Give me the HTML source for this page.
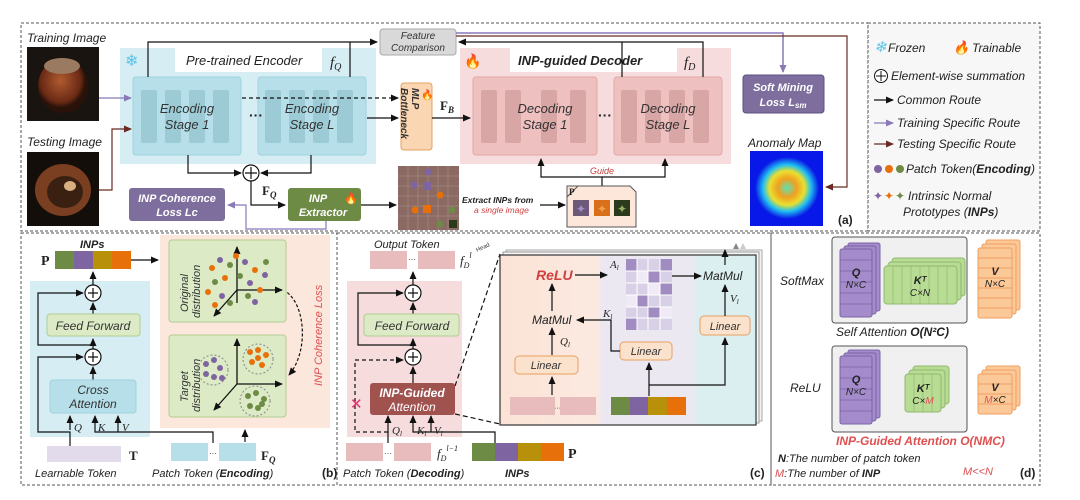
<!DOCTYPE html>
<html><head><meta charset="utf-8"><style>
body{margin:0;background:#fff}
svg{display:block;font-family:"Liberation Sans",sans-serif}
.i{font-style:italic}
</style></head><body>
<svg width="1080" height="500" viewBox="0 0 1080 500" xmlns="http://www.w3.org/2000/svg">
<defs>
<marker id="ak" markerWidth="8" markerHeight="8" refX="7" refY="4" orient="auto" markerUnits="userSpaceOnUse"><path d="M0,0.5 L8,4 L0,7.5z" fill="#111"/></marker>
<marker id="ap" markerWidth="8" markerHeight="8" refX="7" refY="4" orient="auto" markerUnits="userSpaceOnUse"><path d="M0,0.5 L8,4 L0,7.5z" fill="#8a78b8"/></marker>
<marker id="ab" markerWidth="8" markerHeight="8" refX="7" refY="4" orient="auto" markerUnits="userSpaceOnUse"><path d="M0,0.5 L8,4 L0,7.5z" fill="#6a2a22"/></marker>
<linearGradient id="zg" x1="0" x2="1"><stop offset="0" stop-color="#fbe3d6"/><stop offset="0.38" stop-color="#fbe9e0"/><stop offset="0.4" stop-color="#ece8f2"/><stop offset="0.75" stop-color="#ece8f2"/><stop offset="0.77" stop-color="#dceff0"/><stop offset="1" stop-color="#dceff0"/></linearGradient>
<radialGradient id="am" cx="0.5" cy="0.5" r="0.5"><stop offset="0" stop-color="#60e0b0"/><stop offset="0.3" stop-color="#f0a020"/><stop offset="0.55" stop-color="#e8e030"/><stop offset="0.75" stop-color="#20c0f0"/><stop offset="1" stop-color="#0818e8"/></radialGradient>
<radialGradient id="nut1" cx="0.45" cy="0.4" r="0.5"><stop offset="0" stop-color="#b05a30"/><stop offset="0.8" stop-color="#6a2a14"/><stop offset="1" stop-color="#2a1208"/></radialGradient>
</defs>

<g fill="none" stroke="#555" stroke-dasharray="3,2" stroke-width="1">
<rect x="21" y="23" width="847" height="208"/>
<rect x="868" y="23" width="172" height="208" fill="#f7f7f7"/>
<rect x="21" y="233" width="316" height="252"/>
<rect x="337" y="233" width="434" height="252"/>
<rect x="771" y="233" width="269" height="252"/>
</g>

<text x="27" y="42" font-size="12" class="i" fill="#222">Training Image</text>
<rect x="27" y="47" width="72" height="74" fill="#1a1410"/>
<ellipse cx="63" cy="86" rx="25" ry="27" fill="url(#nut1)"/>
<ellipse cx="62" cy="66" rx="18" ry="8" fill="#9a7a60"/>
<text x="27" y="146" font-size="12" class="i" fill="#222">Testing Image</text>
<rect x="27" y="152" width="72" height="74" fill="#140e0a"/>
<ellipse cx="63" cy="190" rx="28" ry="26" fill="#7a3e20"/>
<ellipse cx="65" cy="192" rx="18" ry="16" fill="#3a2010"/>
<ellipse cx="70" cy="186" rx="6" ry="5" fill="#d8b080"/>

<rect x="120" y="48" width="256" height="116" fill="#d6edf3"/>
<text x="125" y="66" font-size="16" fill="#5cc4e8">❄</text>
<rect x="175" y="48" width="147" height="24" fill="#fff"/>
<text x="186" y="65" font-size="13" class="i" fill="#222">Pre-trained Encoder</text>
<text x="330" y="67" font-size="15" class="i" font-family="Liberation Serif" fill="#222">f<tspan font-size="10" dy="3">Q</tspan></text>
<g fill="#b6dfe9" stroke="#9ed2de">
<rect x="133" y="77" width="108" height="78" rx="3"/>
<rect x="258" y="77" width="108" height="78" rx="3"/>
</g>
<g fill="#9ccbd6">
<rect x="141" y="90" width="16" height="53" rx="2"/><rect x="165" y="90" width="16" height="53" rx="2"/><rect x="189" y="90" width="16" height="53" rx="2"/><rect x="213" y="90" width="16" height="53" rx="2"/>
<rect x="265" y="90" width="16" height="53" rx="2"/><rect x="289" y="90" width="16" height="53" rx="2"/><rect x="313" y="90" width="16" height="53" rx="2"/><rect x="337" y="90" width="16" height="53" rx="2"/>
</g>
<text x="187" y="113" font-size="13" class="i" text-anchor="middle" fill="#333">Encoding</text>
<text x="187" y="129" font-size="13" class="i" text-anchor="middle" fill="#333">Stage 1</text>
<text x="312" y="113" font-size="13" class="i" text-anchor="middle" fill="#333">Encoding</text>
<text x="312" y="129" font-size="13" class="i" text-anchor="middle" fill="#333">Stage L</text>
<text x="249" y="120" font-size="14" font-weight="bold" fill="#222">···</text>

<rect x="380" y="29" width="76" height="26" rx="3" fill="#d9d9d9" stroke="#aaa"/>
<text x="418" y="39" font-size="10" class="i" text-anchor="middle" fill="#333">Feature</text>
<text x="418" y="51" font-size="10" class="i" text-anchor="middle" fill="#333">Comparison</text>

<rect x="401" y="83" width="31" height="67" rx="3" fill="#fbd6b2" stroke="#e0a060"/>
<text transform="translate(412,88) rotate(90)" font-size="10" class="i" font-weight="bold" fill="#333">MLP</text>
<text transform="translate(401,88) rotate(90)" font-size="10" class="i" font-weight="bold" fill="#333">Bottleneck</text>
<text x="421" y="98" font-size="10" fill="#e8801a">🔥</text>
<text x="440" y="110" font-size="13" font-weight="bold" font-family="Liberation Serif" fill="#222">F<tspan font-size="9" dy="3" class="i">B</tspan></text>

<rect x="460" y="48" width="271" height="116" fill="#f6dcdc"/>
<text x="464" y="66" font-size="14" fill="#f08020">🔥</text>
<rect x="510" y="48" width="167" height="24" fill="#fff"/>
<text x="518" y="65" font-size="13" class="i" font-weight="bold" fill="#222">INP-guided Decoder</text>
<text x="684" y="67" font-size="15" class="i" font-family="Liberation Serif" fill="#222">f<tspan font-size="10" dy="3">D</tspan></text>
<g fill="#efc0c0" stroke="#e0a8a8">
<rect x="473" y="77" width="124" height="78" rx="3"/>
<rect x="614" y="77" width="108" height="78" rx="3"/>
</g>
<g fill="#d9a6a6">
<rect x="481" y="90" width="16" height="53" rx="2"/><rect x="505" y="90" width="16" height="53" rx="2"/><rect x="541" y="90" width="16" height="53" rx="2"/><rect x="570" y="90" width="16" height="53" rx="2"/>
<rect x="621" y="90" width="16" height="53" rx="2"/><rect x="645" y="90" width="16" height="53" rx="2"/><rect x="669" y="90" width="16" height="53" rx="2"/><rect x="693" y="90" width="16" height="53" rx="2"/>
</g>
<text x="545" y="113" font-size="13" class="i" text-anchor="middle" fill="#333">Decoding</text>
<text x="545" y="129" font-size="13" class="i" text-anchor="middle" fill="#333">Stage 1</text>
<text x="668" y="113" font-size="13" class="i" text-anchor="middle" fill="#333">Decoding</text>
<text x="668" y="129" font-size="13" class="i" text-anchor="middle" fill="#333">Stage L</text>
<text x="598" y="120" font-size="14" font-weight="bold" fill="#222">···</text>

<rect x="743" y="75" width="81" height="38" rx="3" fill="#7e6e9e" stroke="#5e5080"/>
<text x="783" y="91" font-size="11" class="i" font-weight="bold" text-anchor="middle" fill="#fff">Soft Mining</text>
<text x="783" y="106" font-size="11" class="i" font-weight="bold" text-anchor="middle" fill="#fff">Loss L<tspan font-size="8" dy="2">sm</tspan></text>
<text x="748" y="147" font-size="12" class="i" fill="#222">Anomaly Map</text>
<rect x="750" y="151" width="73" height="75" fill="#0818e8"/>
<ellipse cx="787" cy="188" rx="32" ry="31" fill="url(#am)"/>
<text x="838" y="224" font-size="12" font-weight="bold" fill="#222">(a)</text>

<g fill="none" stroke="#111" stroke-width="1.2">
<path d="M148,77 V42 H377" marker-end="url(#ak)"/>
<path d="M350,77 V42"/>
<path d="M703,77 V42 H459" marker-end="url(#ak)"/>
<path d="M622,77 V42"/>
<path d="M367,118 H398" marker-end="url(#ak)"/>
<path d="M242,98 H398" stroke-dasharray="4,3" marker-end="url(#ak)"/>
<path d="M432,118 H470" marker-end="url(#ak)"/>
<path d="M188,155 V173 H241" marker-end="url(#ak)"/>
<path d="M311,155 V173 H261" marker-end="url(#ak)"/>
<path d="M251,181 V205 H285" marker-end="url(#ak)"/>
<path d="M361,205 H396" marker-end="url(#ak)"/>
<path d="M540,205 H565" marker-end="url(#ak)"/>
<path d="M602,186 V177 H541 V159" marker-end="url(#ak)"/>
<path d="M602,177 H665 V159" marker-end="url(#ak)"/>
</g>
<circle cx="251" cy="173" r="8" fill="#fff" stroke="#111" stroke-width="1.2"/>
<path d="M245,173 h12 M251,167 v12" stroke="#111" stroke-width="1.2"/>
<text x="262" y="195" font-size="13" font-weight="bold" font-family="Liberation Serif" fill="#222">F<tspan font-size="9" dy="3" class="i">Q</tspan></text>
<path d="M456,33 H783 V72" fill="none" stroke="#8a78b8" stroke-width="1.5" marker-end="url(#ap)"/>
<path d="M456,36 H847 V187 H826" fill="none" stroke="#6a2a22" stroke-width="1.2" marker-end="url(#ab)"/>
<path d="M99,98 H131" stroke="#8a78b8" stroke-width="1.2" marker-end="url(#ap)"/>
<path d="M99,190 H112 V129 H131" fill="none" stroke="#6a2a22" stroke-width="1.2" marker-end="url(#ab)"/>
<path d="M326,221 V229 H246 V205 H228" fill="none" stroke="#8a78b8" stroke-width="1.2" marker-end="url(#ap)"/>

<rect x="129" y="188" width="96" height="33" rx="3" fill="#7e6e9e"/>
<text x="177" y="202" font-size="11" class="i" font-weight="bold" text-anchor="middle" fill="#fff">INP Coherence</text>
<text x="177" y="216" font-size="11" class="i" font-weight="bold" text-anchor="middle" fill="#fff">Loss Lc</text>
<rect x="288" y="188" width="73" height="33" rx="3" fill="#6e8b45"/>
<text x="318" y="202" font-size="11" class="i" font-weight="bold" text-anchor="middle" fill="#fff">INP</text>
<text x="323" y="216" font-size="11" class="i" font-weight="bold" text-anchor="middle" fill="#fff">Extractor</text>
<text x="344" y="202" font-size="11" fill="#f08020">🔥</text>

<rect x="398" y="166" width="61" height="64" fill="#8a6a62"/>
<g stroke="#a08680" stroke-width="0.8">
<path d="M408,166v64M418,166v64M428,166v64M438,166v64M448,166v64M398,176h61M398,186h61M398,196h61M398,206h61M398,216h61"/>
</g>
<circle cx="428" cy="172" r="3.5" fill="#7e64a0"/><circle cx="414" cy="185" r="3.5" fill="#7e64a0"/>
<circle cx="440" cy="195" r="3.5" fill="#e8700a"/><circle cx="415" cy="210" r="3.5" fill="#e8700a"/>
<circle cx="452" cy="210" r="3.5" fill="#6e8b45"/><circle cx="440" cy="224" r="3.5" fill="#6e8b45"/>
<rect x="423" y="182" width="8" height="8" fill="#7e64a0"/><rect x="423" y="205" width="8" height="8" fill="#e8700a"/><rect x="449" y="220" width="8" height="8" fill="#2a3a1a"/>
<text x="462" y="203" font-size="8.5" class="i" font-weight="bold" fill="#222">Extract INPs from</text>
<text x="474" y="213" font-size="8.5" class="i" fill="#d04040">a single image</text>
<text x="590" y="174" font-size="9" class="i" fill="#c04040">Guide</text>
<path d="M567,186 H630 L636,192 V227 H567 Z" fill="#fde6da" stroke="#555"/>
<path d="M567,197 L578,186" stroke="#555"/>
<text x="569" y="195" font-size="9" font-weight="bold" font-family="Liberation Serif" fill="#222">P</text>
<rect x="573" y="200" width="16" height="16" fill="#6e5878"/><rect x="594" y="200" width="16" height="16" fill="#d8701a"/><rect x="614" y="200" width="16" height="16" fill="#2c3a1c"/>
<g font-size="12" text-anchor="middle"><text x="581" y="213" fill="#a090d0">✦</text><text x="602" y="213" fill="#f0a050">✦</text><text x="622" y="213" fill="#90b060">✦</text></g>

<g font-size="12" class="i" fill="#222">
<text x="874" y="52" fill="#5cc4e8" font-size="15">❄</text><text x="888" y="52">Frozen</text>
<text x="953" y="52" fill="#f08020" font-size="13">🔥</text><text x="972" y="52">Trainable</text>
<circle cx="881" cy="76" r="6.5" fill="#fff" stroke="#111"/><path d="M876,76h10M881,71v10" stroke="#111"/>
<text x="891" y="80">Element-wise summation</text>
<path d="M874,100 H893" stroke="#111" stroke-width="1.2" marker-end="url(#ak)"/><text x="897" y="104">Common Route</text>
<path d="M874,123 H893" stroke="#8a78b8" stroke-width="1.2" marker-end="url(#ap)"/><text x="897" y="127">Training Specific Route</text>
<path d="M874,144 H893" stroke="#6a2a22" stroke-width="1.2" marker-end="url(#ab)"/><text x="897" y="148">Testing Specific Route</text>
<circle cx="878" cy="169" r="4" fill="#7e64a0"/><circle cx="889" cy="169" r="4" fill="#e8700a"/><circle cx="900" cy="169" r="4" fill="#6e8b45"/>
<text x="906" y="173">Patch Token(<tspan font-weight="bold">Encoding</tspan>)</text>
<text x="873" y="200" fill="#7e64a0" font-style="normal">✦</text><text x="884" y="200" fill="#e8700a" font-style="normal">✦</text><text x="895" y="200" fill="#6e8b45" font-style="normal">✦</text>
<text x="908" y="200">Intrinsic Normal</text>
<text x="903" y="216">Prototypes (<tspan font-weight="bold">INPs</tspan>)</text>
</g>

<rect x="30" y="281" width="120" height="156" fill="#d6edf3"/>
<rect x="160" y="235" width="170" height="193" fill="#fbe7dc"/>
<text x="80" y="248" font-size="11" class="i" font-weight="bold" fill="#222">INPs</text>
<text x="41" y="265" font-size="14" font-weight="bold" font-family="Liberation Serif" fill="#222">P</text>
<rect x="55" y="251" width="19" height="18" fill="#6e8b45"/><rect x="74" y="251" width="19" height="18" fill="#7e64a0"/><rect x="93" y="251" width="19" height="18" fill="#b8900a"/><rect x="112" y="251" width="19" height="18" fill="#e8700a"/>
<g fill="none" stroke="#111" stroke-width="1.2">
<path d="M131,260 H158" marker-end="url(#ak)"/>
<path d="M93,285 V272" marker-end="url(#ak)"/>
<path d="M93,314 V303" marker-end="url(#ak)"/>
<path d="M93,349 V339" marker-end="url(#ak)"/>
<path d="M93,380 V367" marker-end="url(#ak)"/>
<path d="M93,345 H38 V293 H83" marker-end="url(#ak)"/>
<path d="M70,449 V432 H38 V357 H83" marker-end="url(#ak)"/>
<path d="M70,430 V416" marker-end="url(#ak)"/>
<path d="M213,443 V432 H95 V416" marker-end="url(#ak)"/>
<path d="M118,432 V416" marker-end="url(#ak)"/>
<path d="M245,442 V430" marker-end="url(#ak)"/>
<path d="M283,290 C305,300 310,350 289,375" stroke-dasharray="3,2" marker-end="url(#ak)"/>
</g>
<g fill="#fff" stroke="#111" stroke-width="1.2"><circle cx="93" cy="293" r="8"/><circle cx="93" cy="357" r="8"/></g>
<path d="M88,293h10M93,288v10M88,357h10M93,352v10" stroke="#111" stroke-width="1.2"/>
<rect x="47" y="314" width="93" height="22" rx="3" fill="#dcebc6" stroke="#b0cc90"/>
<text x="93" y="330" font-size="12" class="i" text-anchor="middle" fill="#333">Feed Forward</text>
<rect x="50" y="380" width="86" height="33" rx="3" fill="#b6dfe9" stroke="#9ed2de"/>
<text x="93" y="394" font-size="12" class="i" text-anchor="middle" fill="#333">Cross</text>
<text x="93" y="408" font-size="12" class="i" text-anchor="middle" fill="#333">Attention</text>
<g font-size="11" class="i" font-family="Liberation Serif" fill="#222"><text x="74" y="431">Q</text><text x="98" y="431">K</text><text x="122" y="431">V</text></g>
<rect x="47" y="446" width="74" height="16" fill="#e2dbec"/>
<text x="129" y="460" font-size="13" font-weight="bold" font-family="Liberation Serif" fill="#222">T</text>
<text x="35" y="477" font-size="11" class="i" fill="#222">Learnable Token</text>
<rect x="171" y="443" width="37" height="18" fill="#b6dfe9"/><rect x="219" y="443" width="37" height="18" fill="#b6dfe9"/>
<text x="209" y="456" font-size="8" fill="#222">···</text>
<text x="261" y="460" font-size="13" font-weight="bold" font-family="Liberation Serif" fill="#222">F<tspan font-size="9" dy="3" class="i">Q</tspan></text>
<text x="152" y="477" font-size="11" class="i" fill="#222">Patch Token (<tspan font-weight="bold">Encoding</tspan>)</text>
<text x="322" y="477" font-size="12" font-weight="bold" fill="#222">(b)</text>

<rect x="169" y="240" width="117" height="82" rx="3" fill="#dcebc6" stroke="#b0cc90"/>
<rect x="169" y="335" width="117" height="82" rx="3" fill="#dcebc6" stroke="#b0cc90"/>
<text transform="translate(188,312) rotate(-90)" font-size="11" class="i" fill="#333">Original</text>
<text transform="translate(200,318) rotate(-90)" font-size="11" class="i" fill="#333">distribution</text>
<text transform="translate(188,402) rotate(-90)" font-size="11" class="i" fill="#333">Target</text>
<text transform="translate(200,412) rotate(-90)" font-size="11" class="i" fill="#333">distribution</text>
<g stroke="#111" stroke-width="1.3" fill="none">
<path d="M237,303 V247" marker-end="url(#ak)"/><path d="M237,290 H282" marker-end="url(#ak)"/><path d="M237,290 L214,316" marker-end="url(#ak)"/>
<path d="M237,384 V339" marker-end="url(#ak)"/><path d="M237,384 H282" marker-end="url(#ak)"/><path d="M237,384 L214,410" marker-end="url(#ak)"/>
</g>
<g>
<circle cx="212" cy="268" r="3" fill="#e8700a"/><circle cx="220" cy="260" r="3" fill="#7e64a0"/><circle cx="230" cy="265" r="3" fill="#6e8b45"/><circle cx="245" cy="262" r="3" fill="#7e64a0"/><circle cx="255" cy="270" r="3" fill="#e8700a"/><circle cx="265" cy="275" r="3" fill="#7e64a0"/><circle cx="215" cy="282" r="3" fill="#6e8b45"/><circle cx="225" cy="278" r="3" fill="#e8700a"/><circle cx="240" cy="276" r="3" fill="#6e8b45"/><circle cx="250" cy="283" r="3" fill="#7e64a0"/><circle cx="208" cy="292" r="3" fill="#e8700a"/><circle cx="222" cy="296" r="3" fill="#7e64a0"/><circle cx="248" cy="296" r="3" fill="#6e8b45"/><circle cx="260" cy="290" r="3" fill="#e8700a"/><circle cx="230" cy="303" r="3" fill="#6e8b45"/><circle cx="215" cy="305" r="3" fill="#e8700a"/><circle cx="255" cy="302" r="3" fill="#7e64a0"/><circle cx="266" cy="262" r="3" fill="#6e8b45"/><circle cx="236" cy="256" r="3" fill="#e8700a"/>
</g>
<circle cx="213" cy="370" r="15" fill="none" stroke="#888" stroke-dasharray="2,2"/>
<circle cx="258" cy="359" r="15" fill="none" stroke="#888" stroke-dasharray="2,2"/>
<circle cx="255" cy="401" r="15" fill="none" stroke="#888" stroke-dasharray="2,2"/>
<g fill="#7e64a0"><circle cx="206" cy="364" r="3"/><circle cx="214" cy="360" r="3"/><circle cx="220" cy="368" r="3"/><circle cx="206" cy="374" r="3"/><circle cx="214" cy="377" r="3"/><circle cx="222" cy="378" r="3"/></g>
<g fill="#e8700a"><circle cx="250" cy="352" r="3"/><circle cx="258" cy="350" r="3"/><circle cx="266" cy="355" r="3"/><circle cx="252" cy="362" r="3"/><circle cx="262" cy="365" r="3"/><circle cx="258" cy="358" r="3"/></g>
<g fill="#6e8b45"><circle cx="248" cy="396" r="3"/><circle cx="256" cy="393" r="3"/><circle cx="264" cy="399" r="3"/><circle cx="250" cy="406" r="3"/><circle cx="258" cy="408" r="3"/><circle cx="262" cy="404" r="3"/></g>
<text transform="translate(322,386) rotate(-90)" font-size="11" class="i" fill="#e05050">INP Coherence Loss</text>

<rect x="347" y="281" width="115" height="156" fill="#f6dcdc"/>
<text x="374" y="248" font-size="11" class="i" fill="#222">Output Token</text>
<rect x="370" y="251" width="37" height="18" fill="#e8bcbc"/><rect x="418" y="251" width="37" height="18" fill="#e8bcbc"/>
<text x="408" y="262" font-size="8" fill="#222">···</text>
<text x="460" y="265" font-size="13" class="i" font-family="Liberation Serif" fill="#222">f<tspan font-size="8" dy="3">D</tspan><tspan font-size="8" dy="-10">l</tspan></text>
<g fill="none" stroke="#111" stroke-width="1.2">
<path d="M413,285 V272" marker-end="url(#ak)"/>
<path d="M413,314 V303" marker-end="url(#ak)"/>
<path d="M413,349 V339" marker-end="url(#ak)"/>
<path d="M413,383 V367" marker-end="url(#ak)"/>
<path d="M413,345 H358 V293 H403" marker-end="url(#ak)"/>
<path d="M388,443 V416" marker-end="url(#ak)"/>
<path d="M495,443 V432 H413 V416" marker-end="url(#ak)"/>
<path d="M431,432 V416" marker-end="url(#ak)"/>
<path d="M388,432 H355 V360 H403" stroke-dasharray="4,3" marker-end="url(#ak)"/>
<path d="M455,386 L500,254" stroke-dasharray="5,3"/>
<path d="M455,414 L500,424" stroke-dasharray="5,3"/>
</g>
<g fill="#fff" stroke="#111" stroke-width="1.2"><circle cx="413" cy="293" r="8"/><circle cx="413" cy="357" r="8"/></g>
<path d="M408,293h10M413,288v10M408,357h10M413,352v10" stroke="#111" stroke-width="1.2"/>
<rect x="364" y="314" width="95" height="22" rx="3" fill="#dcebc6" stroke="#b0cc90"/>
<text x="412" y="330" font-size="12" class="i" text-anchor="middle" fill="#333">Feed Forward</text>
<rect x="370" y="383" width="85" height="32" rx="3" fill="#a0524f"/>
<text x="412" y="397" font-size="12" class="i" font-weight="bold" text-anchor="middle" fill="#fff">INP-Guided</text>
<text x="412" y="411" font-size="12" class="i" text-anchor="middle" fill="#fff">Attention</text>
<text x="350" y="409" font-size="15" fill="#e83070">✕</text>
<g font-size="11" class="i" font-family="Liberation Serif" fill="#222"><text x="392" y="434">Q<tspan font-size="7" dy="2">l</tspan></text><text x="417" y="434">K<tspan font-size="7" dy="2">l</tspan></text><text x="434" y="434">V<tspan font-size="7" dy="2">l</tspan></text></g>
<rect x="346" y="443" width="37" height="18" fill="#e8bcbc"/><rect x="394" y="443" width="37" height="18" fill="#e8bcbc"/>
<text x="384" y="456" font-size="8" fill="#222">···</text>
<text x="437" y="458" font-size="13" class="i" font-family="Liberation Serif" fill="#222">f<tspan font-size="8" dy="3">D</tspan><tspan font-size="8" dy="-10">l−1</tspan></text>
<rect x="472" y="443" width="23" height="18" fill="#6e8b45"/><rect x="495" y="443" width="23" height="18" fill="#7e64a0"/><rect x="518" y="443" width="23" height="18" fill="#b8900a"/><rect x="541" y="443" width="23" height="18" fill="#e8700a"/>
<text x="568" y="458" font-size="14" font-weight="bold" font-family="Liberation Serif" fill="#222">P</text>
<text x="343" y="477" font-size="11" class="i" fill="#222">Patch Token (<tspan font-weight="bold">Decoding</tspan>)</text>
<text x="505" y="477" font-size="11" class="i" font-weight="bold" fill="#222">INPs</text>
<text x="750" y="477" font-size="12" font-weight="bold" fill="#222">(c)</text>
<text transform="translate(477,252) rotate(-25)" font-size="6" fill="#333">Head</text>

<rect x="506" y="250" width="256" height="171" fill="#f2f2f2" stroke="#aaa"/>
<rect x="503" y="252" width="256" height="171" fill="#f6f6f6" stroke="#999"/>
<rect x="500" y="255" width="256" height="170" fill="url(#zg)" stroke="#333" stroke-width="1.2"/>
<text x="536" y="280" font-size="14" class="i" font-weight="bold" fill="#d04040">ReLU</text>
<text x="610" y="268" font-size="11" class="i" font-family="Liberation Serif" fill="#222">A<tspan font-size="7" dy="2">l</tspan></text>
<g>
<rect x="626" y="259" width="46" height="71" fill="#d8d0e6"/>
<g fill="#a08cc0"><rect x="626" y="259" width="11" height="12"/><rect x="648" y="271" width="12" height="12"/><rect x="660" y="283" width="12" height="12"/><rect x="637" y="295" width="11" height="12"/><rect x="648" y="307" width="12" height="11"/><rect x="626" y="318" width="11" height="12"/><rect x="660" y="259" width="12" height="12"/></g>
<g fill="#efeaf5"><rect x="637" y="271" width="11" height="12"/><rect x="648" y="283" width="12" height="12"/><rect x="626" y="295" width="11" height="12"/><rect x="660" y="307" width="12" height="11"/></g>
<path d="M637,259v71M648,259v71M660,259v71M626,271h46M626,283h46M626,295h46M626,307h46M626,318h46" stroke="#fff" stroke-width="1"/>
</g>
<text x="703" y="280" font-size="12" class="i" fill="#222">MatMul</text>
<text x="730" y="302" font-size="11" class="i" font-family="Liberation Serif" fill="#222">V<tspan font-size="7" dy="2">l</tspan></text>
<text x="532" y="324" font-size="12" class="i" fill="#222">MatMul</text>
<text x="603" y="317" font-size="11" class="i" font-family="Liberation Serif" fill="#222">K<tspan font-size="7" dy="2">l</tspan></text>
<text x="560" y="345" font-size="11" class="i" font-family="Liberation Serif" fill="#222">Q<tspan font-size="7" dy="2">l</tspan></text>
<g fill="#fbe2cc" stroke="#e8a060"><rect x="700" y="316" width="50" height="19" rx="4"/><rect x="620" y="342" width="52" height="18" rx="4"/><rect x="515" y="356" width="63" height="18" rx="4"/></g>
<g font-size="11" class="i" text-anchor="middle" fill="#333"><text x="725" y="330">Linear</text><text x="646" y="355">Linear</text><text x="546" y="369">Linear</text></g>
<g fill="none" stroke="#111" stroke-width="1.2">
<path d="M575,275 H607" marker-end="url(#ak)"/>
<path d="M672,276 H701" marker-end="url(#ak)"/>
<path d="M725,316 V285" marker-end="url(#ak)"/>
<path d="M725,265 V250" marker-end="url(#ak)"/>
<path d="M552,311 V284" marker-end="url(#ak)"/>
<path d="M552,355 V328" marker-end="url(#ak)"/>
<path d="M620,351 H611 V320 H577" marker-end="url(#ak)"/>
<path d="M552,395 V377" marker-end="url(#ak)"/>
<path d="M649,396 V363" marker-end="url(#ak)"/>
<path d="M649,385 H725 V338" marker-end="url(#ak)"/>
</g>
<path d="M733,249 l3,-6 l3,6z" fill="#888"/><path d="M740,249 l3,-6 l3,6z" fill="#ccc"/>
<rect x="510" y="397" width="45" height="18" fill="#e8bcbc"/><rect x="560" y="397" width="36" height="18" fill="#e8bcbc"/>
<text x="554" y="410" font-size="7" fill="#222">···</text>
<rect x="611" y="397" width="19" height="18" fill="#6e8b45"/><rect x="630" y="397" width="18" height="18" fill="#7e64a0"/><rect x="648" y="397" width="19" height="18" fill="#b8900a"/><rect x="667" y="397" width="19" height="18" fill="#e8700a"/>

<text x="780" y="285" font-size="12" class="i" fill="#222">SoftMax</text>
<rect x="832" y="237" width="135" height="86" rx="3" fill="#f0f0f0" stroke="#555"/>
<g fill="#a48ccc" stroke="#7c64a4"><rect x="848" y="243" width="32" height="68" rx="2"/><rect x="844" y="246" width="32" height="68" rx="2"/><rect x="840" y="249" width="32" height="68" rx="2"/></g>
<g stroke="#7c64a4" stroke-width="0.7"><path d="M840,260h32M840,271h32M840,282h32M840,293h32M840,304h32"/></g>
<text x="856" y="276" font-size="11" class="i" font-weight="bold" text-anchor="middle" fill="#222">Q</text>
<text x="856" y="288" font-size="10" class="i" text-anchor="middle" fill="#222">N×C</text>
<g fill="#b8dc94" stroke="#90b870"><rect x="892" y="258" width="73" height="38" rx="3"/><rect x="888" y="262" width="73" height="38" rx="3"/><rect x="884" y="266" width="73" height="38" rx="3"/></g>
<g stroke="#90b870" stroke-width="0.7"><path d="M893,266v38M902,266v38M911,266v38M920,266v38M929,266v38M938,266v38M947,266v38"/></g>
<text x="920" y="284" font-size="11" class="i" font-weight="bold" text-anchor="middle" fill="#222">Kᵀ</text>
<text x="920" y="296" font-size="10" class="i" text-anchor="middle" fill="#222">C×N</text>
<g fill="#fbc898" stroke="#f0a060"><rect x="986" y="240" width="34" height="70" rx="2"/><rect x="982" y="244" width="34" height="70" rx="2"/><rect x="978" y="248" width="34" height="70" rx="2"/></g>
<g stroke="#f09050" stroke-width="0.7"><path d="M978,258h34M978,268h34M978,278h34M978,288h34M978,298h34M978,308h34"/></g>
<text x="995" y="275" font-size="11" class="i" font-weight="bold" text-anchor="middle" fill="#222">V</text>
<text x="995" y="287" font-size="10" class="i" text-anchor="middle" fill="#222">N×C</text>
<text x="836" y="336" font-size="12" class="i" fill="#222">Self Attention <tspan font-weight="bold">O(N²C)</tspan></text>

<text x="790" y="392" font-size="12" class="i" fill="#222">ReLU</text>
<rect x="832" y="346" width="135" height="86" rx="3" fill="#f0f0f0" stroke="#555"/>
<g fill="#a48ccc" stroke="#7c64a4"><rect x="848" y="350" width="32" height="68" rx="2"/><rect x="844" y="353" width="32" height="68" rx="2"/><rect x="840" y="356" width="32" height="68" rx="2"/></g>
<g stroke="#7c64a4" stroke-width="0.7"><path d="M840,367h32M840,378h32M840,389h32M840,400h32M840,411h32"/></g>
<text x="856" y="383" font-size="11" class="i" font-weight="bold" text-anchor="middle" fill="#222">Q</text>
<text x="856" y="395" font-size="10" class="i" text-anchor="middle" fill="#222">N×C</text>
<g fill="#b8dc94" stroke="#90b870"><rect x="913" y="366" width="36" height="38" rx="3"/><rect x="909" y="370" width="36" height="38" rx="3"/><rect x="905" y="374" width="36" height="38" rx="3"/></g>
<g stroke="#90b870" stroke-width="0.7"><path d="M914,374v38M923,374v38M932,374v38"/></g>
<text x="923" y="392" font-size="11" class="i" font-weight="bold" text-anchor="middle" fill="#222">Kᵀ</text>
<text x="923" y="404" font-size="10" class="i" text-anchor="middle" fill="#222">C×<tspan fill="#e05050">M</tspan></text>
<g fill="#fbc898" stroke="#f0a060"><rect x="986" y="366" width="34" height="40" rx="2"/><rect x="982" y="370" width="34" height="40" rx="2"/><rect x="978" y="374" width="34" height="40" rx="2"/></g>
<g stroke="#f09050" stroke-width="0.7"><path d="M978,384h34M978,394h34M978,404h34"/></g>
<text x="995" y="391" font-size="11" class="i" font-weight="bold" text-anchor="middle" fill="#222">V</text>
<text x="995" y="403" font-size="10" class="i" text-anchor="middle" fill="#222"><tspan fill="#e05050">M</tspan>×C</text>
<text x="836" y="445" font-size="12" class="i" font-weight="bold" fill="#e05050">INP-Guided Attention O(NMC)</text>
<text x="778" y="462" font-size="11" class="i" fill="#222"><tspan font-weight="bold">N</tspan>:The number of patch token</text>
<text x="775" y="477" font-size="11" class="i" fill="#222"><tspan fill="#e05050">M</tspan>:The number of <tspan font-weight="bold">INP</tspan></text>
<text x="963" y="475" font-size="11" class="i" fill="#e05050">M&lt;&lt;N</text>
<text x="1020" y="477" font-size="12" font-weight="bold" fill="#222">(d)</text>
</svg>
</body></html>
